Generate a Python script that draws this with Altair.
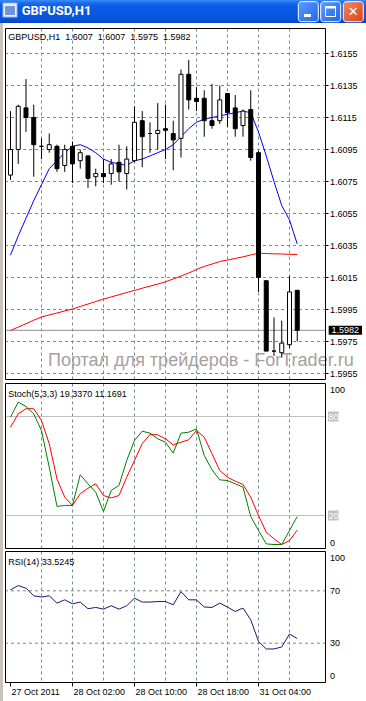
import altair as alt
import pandas as pd

# ---------------- data ----------------
window_title = "GBPUSD,H1"
ohlc_title = "GBPUSD,H1\u00a0\u00a01.6007\u00a0 1.6007\u00a0 1.5975\u00a0 1.5982"
stoch_title = "Stoch(5,3,3) 19.3370 11.1691"
rsi_title = "RSI(14) 33.5245"
watermark = "Портал для трейдеров - ForTrader.ru"

time_labels = ["27 Oct 2011", "28 Oct 02:00", "28 Oct 10:00", "28 Oct 18:00", "31 Oct 04:00"]
time_label_bars = [0, 8, 16, 24, 32]
grid_bars = [4, 8, 12, 16, 20, 24, 28, 32, 36]
price_ticks = [1.5955, 1.5975, 1.5995, 1.6015, 1.6035, 1.6055, 1.6075,
               1.6095, 1.6115, 1.6135, 1.6155]
stoch_ticks = [100, 0]
stoch_levels = [80, 20]
rsi_ticks = [100, 70, 30, 0]
rsi_levels = [70, 30]

opens = [1.6079, 1.6095, 1.6121, 1.6115, 1.6097, 1.6095, 1.6097, 1.6085, 1.6097, 1.6088,
         1.6091, 1.6078, 1.6080, 1.6080, 1.6087, 1.6080, 1.6088, 1.6113, 1.6105, 1.6105,
         1.6108, 1.6105, 1.6102, 1.6142, 1.6127, 1.6127, 1.6113, 1.6113, 1.6130, 1.6121,
         1.6110, 1.6120, 1.6093, 1.6013, 1.5969, 1.5968, 1.5973, 1.6007]
highs = [1.6119, 1.6123, 1.6139, 1.6123, 1.6102, 1.6105, 1.6098, 1.6098, 1.6100, 1.6095,
         1.6091, 1.6083, 1.6089, 1.6089, 1.6098, 1.6097, 1.6122, 1.6119, 1.6112, 1.6124,
         1.6123, 1.6113, 1.6145, 1.6151, 1.6134, 1.6132, 1.6136, 1.6135, 1.6130, 1.6129,
         1.6120, 1.6132, 1.6094, 1.6013, 1.5990, 1.5988, 1.6016, 1.6007]
lows = [1.6076, 1.6086, 1.6106, 1.6078, 1.6089, 1.6093, 1.6081, 1.6081, 1.6074, 1.6083,
        1.6071, 1.6072, 1.6074, 1.6073, 1.6075, 1.6070, 1.6087, 1.6084, 1.6093, 1.6095,
        1.6089, 1.6082, 1.6090, 1.6120, 1.6119, 1.6103, 1.6108, 1.6111, 1.6109, 1.6103,
        1.6103, 1.6088, 1.6006, 1.5969, 1.5966, 1.5965, 1.5971, 1.5975]
closes = [1.6095, 1.6122, 1.6115, 1.6098, 1.6097, 1.6098, 1.6083, 1.6095, 1.6086, 1.6093,
          1.6077, 1.6080, 1.6078, 1.6086, 1.6081, 1.6089, 1.6112, 1.6103, 1.6105, 1.6107,
          1.6107, 1.6101, 1.6142, 1.6126, 1.6125, 1.6113, 1.6110, 1.6126, 1.6118, 1.6108,
          1.6119, 1.6090, 1.6015, 1.5969, 1.5969, 1.5974, 1.6006, 1.5982]
ma_fast = [1.6029, 1.6041, 1.6052, 1.6063, 1.6073, 1.6083, 1.6088, 1.6093, 1.6097, 1.6098,
           1.6096, 1.6093, 1.6089, 1.6087, 1.6086, 1.6085, 1.6088, 1.6089, 1.6091, 1.6093,
           1.6095, 1.6098, 1.6103, 1.6108, 1.6112, 1.6114, 1.6115, 1.6116, 1.6117, 1.6118,
           1.6119, 1.6118, 1.6106, 1.6091, 1.6075, 1.6060, 1.6051, 1.6036]
ma_slow = [1.59819, 1.59840, 1.59861, 1.59883, 1.59903, 1.59916, 1.59928, 1.59941, 1.59953,
           1.59969, 1.59984, 1.60000, 1.60015, 1.60029, 1.60042, 1.60056, 1.60069, 1.60083,
           1.60096, 1.60109, 1.60123, 1.60141, 1.60159, 1.60178, 1.60200, 1.60219, 1.60234,
           1.60250, 1.60259, 1.60269, 1.60279, 1.60291, 1.60302, 1.60300, 1.60298, 1.60297,
           1.60295, 1.60294]
stoch_main = [79.6, 88.7, 86.1, 81.6, 71.5, 49.3, 25.5, 26.1, 26.1, 44.7, 39.2, 34.1, 22.4,
              35.2, 38.2, 53.3, 65.5, 71.1, 69.9, 66.5, 64.4, 57.8, 69.9, 70.5, 72.5, 56.4,
              47.7, 41.6, 41.2, 39.2, 37.2, 19.4, 10.9, 2.8, 2.4, 2.4, 10.9, 19.34]
stoch_signal = [73.5, 81.6, 84.7, 84.7, 77.6, 63.5, 42.2, 31.1, 26.1, 33.2, 36.5, 39.2, 32.1,
                30.7, 32.1, 43.2, 53.3, 63.5, 69.1, 68.9, 66.5, 62.8, 64.4, 65.9, 71.5, 67.5,
                57.4, 47.3, 43.2, 40.8, 38.8, 31.1, 20.0, 9.9, 5.9, 2.4, 4.8, 11.17]
rsi_vals = [70.7, 74.0, 72.0, 66.2, 65.2, 66.2, 60.6, 63.1, 60.1, 61.4, 56.3, 57.3, 56.0,
            58.6, 56.0, 58.6, 64.4, 61.4, 61.4, 61.8, 61.8, 59.3, 69.4, 63.1, 63.1, 57.6,
            57.3, 60.6, 57.6, 54.2, 56.8, 47.9, 31.4, 25.6, 25.6, 27.1, 37.0, 33.52]

# ---------------- tables ----------------
n = len(opens)
bars = list(range(n))
cdf = pd.DataFrame({"bar": bars, "open": opens, "high": highs, "low": lows,
                    "close": closes, "ma_fast": ma_fast, "ma_slow": ma_slow})
cdf["dir"] = ["up" if c > o else "down" for o, c in zip(opens, closes)]
sdf = pd.DataFrame({"bar": bars, "main": stoch_main, "signal": stoch_signal})
rdf = pd.DataFrame({"bar": bars, "rsi": rsi_vals})
gdf = pd.DataFrame({"bar": grid_bars})
tdf = pd.DataFrame({"bar": time_label_bars, "label": time_labels})
pdf_ticks = pd.DataFrame({"price": price_ticks})
bid_df = pd.DataFrame({"price": [closes[-1]]})
sl_df = pd.DataFrame({"level": stoch_levels})
st_df = pd.DataFrame({"level": stoch_ticks})
rl_df = pd.DataFrame({"level": rsi_levels})
rt_df = pd.DataFrame({"level": rsi_ticks})
one = pd.DataFrame({"k": [0]})

# ---------------- style ----------------
FONT = "Liberation Sans"
GRID = "#778899"
DASH = [3, 3]
W, H = 320, 655

xs = alt.Scale(domain=[-0.0625, 39.9375], nice=False, zero=False)
ys_main = alt.Scale(domain=[1.59509375, 1.61709375], range=[352, 0], nice=False, zero=False)
ys_stoch = alt.Scale(domain=[0, 100], range=[520.5, 355.5], nice=False, zero=False)
ys_rsi = alt.Scale(domain=[0, 100], range=[654.5, 523.5], nice=False, zero=False)


def xq():
    return alt.X("bar:Q", scale=xs, axis=None)


def yq(field, scale):
    return alt.Y(field, scale=scale, axis=None)


def deco_rect(x, x2, y, y2, **kw):
    return alt.Chart(one).mark_rect(**kw).encode(
        x=alt.value(x), x2=alt.value(x2), y=alt.value(y), y2=alt.value(y2))


def deco_text(txt, x, y, **kw):
    return alt.Chart(one).mark_text(text=txt, **kw).encode(x=alt.value(x), y=alt.value(y))


def vgrid(top, bottom):
    return alt.Chart(gdf).mark_rule(color=GRID, strokeDash=DASH, strokeWidth=1).encode(
        x=xq(), y=alt.value(top), y2=alt.value(bottom))


def frame(top, bottom):
    return deco_rect(0.5, 320.5, top, bottom, fill=None, fillOpacity=0,
                     stroke="black", strokeWidth=1)


def label_text(**kw):
    base = dict(font=FONT, fontSize=9, color="black", align="left", baseline="middle")
    base.update(kw)
    return base


# ---------------- main panel ----------------
main = alt.layer(
    # horizontal price grid
    alt.Chart(pdf_ticks).mark_rule(color=GRID, strokeDash=DASH, strokeWidth=1).encode(
        x=alt.value(0), x2=alt.value(320), y=yq("price:Q", ys_main)),
    vgrid(0.5, 351.5),
    deco_text(watermark, 43, 338.3, font=FONT, fontSize=18, color="#a8a0a0",
              align="left", baseline="alphabetic"),
    alt.Chart(bid_df).mark_rule(color="#909090", strokeWidth=1).encode(
        x=alt.value(0), x2=alt.value(320), y=yq("price:Q", ys_main)),
    alt.Chart(cdf).mark_line(color="#ff0000", strokeWidth=1).encode(
        x=xq(), y=yq("ma_slow:Q", ys_main)),
    alt.Chart(cdf).mark_line(color="#0000ff", strokeWidth=1).encode(
        x=xq(), y=yq("ma_fast:Q", ys_main)),
    alt.Chart(cdf).mark_rule(color="black", strokeWidth=1).encode(
        x=xq(), y=yq("low:Q", ys_main), y2="high:Q"),
    alt.Chart(cdf).mark_bar(size=4, stroke="black", strokeWidth=1).encode(
        x=xq(), y=yq("open:Q", ys_main), y2="close:Q",
        fill=alt.Fill("dir:N", scale=alt.Scale(domain=["up", "down"], range=["white", "black"]),
                      legend=None)),
    deco_text(ohlc_title, 3.3, 8.5, **label_text()),
    # price axis: ticks and labels
    alt.Chart(pdf_ticks).mark_rule(color="black", strokeWidth=1).encode(
        x=alt.value(320.5), x2=alt.value(323.5), y=yq("price:Q", ys_main)),
    alt.Chart(pdf_ticks).mark_text(**label_text()).encode(
        x=alt.value(325), y=yq("price:Q", ys_main),
        text=alt.Text("price:Q", format=".4f")),
    # current bid marker
    alt.Chart(bid_df).mark_rule(color="black", strokeWidth=9).encode(
        x=alt.value(323.7), x2=alt.value(357), y=yq("price:Q", ys_main)),
    alt.Chart(bid_df).mark_text(**label_text(color="white")).encode(
        x=alt.value(326.5), y=yq("price:Q", ys_main),
        text=alt.Text("price:Q", format=".4f")),
    frame(0.5, 351.5),
)

# ---------------- stochastic panel ----------------
stoch = alt.layer(
    vgrid(355.5, 520.5),
    alt.Chart(sl_df).mark_rule(color="#c0c0c0", strokeWidth=1).encode(
        x=alt.value(0), x2=alt.value(320), y=yq("level:Q", ys_stoch)),
    alt.Chart(sdf).mark_line(color="#ff0000", strokeWidth=1).encode(
        x=xq(), y=yq("signal:Q", ys_stoch)),
    alt.Chart(sdf).mark_line(color="#008000", strokeWidth=1).encode(
        x=xq(), y=yq("main:Q", ys_stoch)),
    alt.Chart(sl_df).mark_rule(color="#c0c0c0", strokeWidth=10).encode(
        x=alt.value(323), x2=alt.value(333.5), y=yq("level:Q", ys_stoch)),
    alt.Chart(sl_df).mark_text(**label_text(color="white")).encode(
        x=alt.value(323.5), y=yq("level:Q", ys_stoch),
        text=alt.Text("level:Q", format="d")),
    alt.Chart(st_df).transform_filter("datum.level == 100").mark_text(
        **label_text(dy=6.5)).encode(
        x=alt.value(325), y=yq("level:Q", ys_stoch), text=alt.Text("level:Q", format="d")),
    alt.Chart(st_df).transform_filter("datum.level == 0").mark_text(
        **label_text(dy=-5.8)).encode(
        x=alt.value(325), y=yq("level:Q", ys_stoch), text=alt.Text("level:Q", format="d")),
    deco_text(stoch_title, 3.3, 366, **label_text()),
    frame(355.5, 520.5),
)

# ---------------- RSI panel ----------------
rsi = alt.layer(
    vgrid(523.5, 654.5),
    alt.Chart(rl_df).mark_rule(color=GRID, strokeDash=DASH, strokeWidth=1).encode(
        x=alt.value(0), x2=alt.value(320), y=yq("level:Q", ys_rsi)),
    alt.Chart(rdf).mark_line(color="#191970", strokeWidth=1).encode(
        x=xq(), y=yq("rsi:Q", ys_rsi)),
    alt.Chart(rt_df).transform_filter("datum.level == 100").mark_text(
        **label_text(dy=6.5)).encode(
        x=alt.value(325), y=yq("level:Q", ys_rsi), text=alt.Text("level:Q", format="d")),
    alt.Chart(rt_df).transform_filter("datum.level > 0 && datum.level < 100").mark_text(
        **label_text()).encode(
        x=alt.value(325), y=yq("level:Q", ys_rsi), text=alt.Text("level:Q", format="d")),
    alt.Chart(rt_df).transform_filter("datum.level == 0").mark_text(
        **label_text(dy=-6.5)).encode(
        x=alt.value(325), y=yq("level:Q", ys_rsi), text=alt.Text("level:Q", format="d")),
    deco_text(rsi_title, 3.3, 533.7, **label_text()),
    # time axis
    alt.Chart(tdf).mark_rule(color="black", strokeWidth=1).encode(
        x=xq(), y=alt.value(654.5), y2=alt.value(658.5)),
    alt.Chart(tdf).mark_text(**label_text(dx=1)).encode(
        x=xq(), y=alt.value(663.7), text="label:N"),
    frame(523.5, 654.5),
)

# ---------------- window chrome ----------------
title_grad = alt.Gradient(gradient="linear", x1=0, x2=0, y1=0, y2=1, stops=[
    alt.GradientStop(color="#3d8ef8", offset=0),
    alt.GradientStop(color="#1a6cf0", offset=0.12),
    alt.GradientStop(color="#0a5ae4", offset=0.3),
    alt.GradientStop(color="#0855dc", offset=0.8),
    alt.GradientStop(color="#0644c4", offset=1)])
btn_grad = alt.Gradient(gradient="linear", x1=0, x2=1, y1=0, y2=1, stops=[
    alt.GradientStop(color="#5a9cff", offset=0),
    alt.GradientStop(color="#2466e8", offset=1)])
close_grad = alt.Gradient(gradient="linear", x1=0, x2=1, y1=0, y2=1, stops=[
    alt.GradientStop(color="#f08860", offset=0),
    alt.GradientStop(color="#d9431a", offset=1)])

chrome = alt.layer(
    deco_rect(-5, 361, -28, -5, fill=title_grad),
    deco_rect(-5, -2, -5, 673, fill="#c8c4bc"),
    deco_rect(-2, 12, -25, -11, fill="#eef3fb", stroke="#9ab6e6", strokeWidth=1),
    deco_rect(0, 10, -22, -13, fill="#6f95d8"),
    deco_text(window_title, 16.7, -16.7, font="Roboto", fontSize=13, fontWeight="bold",
              color="white", align="left", baseline="middle"),
    deco_rect(293.3, 313.3, -26.3, -6.3, fill=btn_grad, stroke="white", strokeWidth=1,
              cornerRadius=3),
    deco_rect(299, 306, -14, -11, fill="white"),
    deco_rect(315.7, 335.7, -26.3, -6.3, fill=btn_grad, stroke="white", strokeWidth=1,
              cornerRadius=3),
    deco_rect(320.5, 330.5, -21.5, -11.5, fill=None, fillOpacity=0, stroke="white",
              strokeWidth=1),
    deco_rect(320.5, 330.5, -22, -19.5, fill="white"),
    deco_rect(338.3, 358.3, -26.3, -6.3, fill=close_grad, stroke="white", strokeWidth=1,
              cornerRadius=3),
    deco_text("✕", 348.3, -16.3, font="DejaVu Sans", fontSize=13, fontWeight="bold",
              color="white", align="center", baseline="middle"),
)

chart = alt.layer(chrome, main, stoch, rsi).resolve_scale(y="independent").properties(
    width=W, height=H,
    autosize=alt.AutoSizeParams(type="none"),
    padding={"left": 5, "top": 28, "right": 41, "bottom": 18},
).configure(background="white").configure_view(stroke=None)

chart.save("out.html", embed_options={"renderer": "svg", "actions": False})
